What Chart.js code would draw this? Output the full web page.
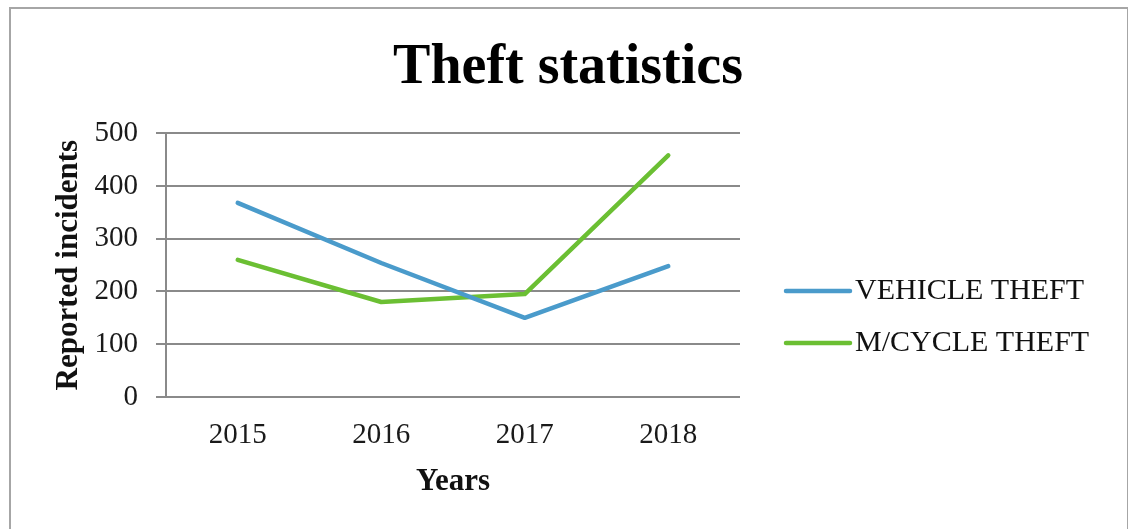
<!DOCTYPE html>
<html>
<head>
<meta charset="utf-8">
<title>Theft statistics</title>
<script src="https://cdn.jsdelivr.net/npm/chart.js@4.4.1/dist/chart.umd.min.js"></script>
<style>
    body { margin: 0; background: #fff; }
    #wrap { position: relative; width: 1128px; height: 529px; overflow: hidden; }
    #frame { position: absolute; left: 9px; top: 7px; width: 1116px; height: 600px;
             border: 2px solid #a6a6a6; border-bottom: none; }
    #chart { position: absolute; left: 0; top: 0; }
</style>
</head>
<body>
<div id="wrap">
    <div id="frame"></div>
    <canvas id="chart" width="1128" height="529"></canvas>
</div>
<script>
const years = ['2015', '2016', '2017', '2018'];
const vehicleTheft = [368, 254, 150, 248];
const mcycleTheft = [260, 180, 195, 458];
const seriesNames = ['VEHICLE THEFT', 'M/CYCLE THEFT'];

const serif = "'Liberation Serif', 'Times New Roman', serif";
const gridGray = '#8a8a8a';

// legend drawn by hand in the space to the right of the plot
const sideLegend = {
    id: 'sideLegend',
    afterDraw: function(chart) {
        const c = chart.ctx;
        const area = chart.chartArea;
        const x0 = area.right + 46;
        const mid = (area.top + area.bottom) / 2;
        c.save();
        chart.data.datasets.forEach(function(ds, i) {
            const y = mid + 26 + 52 * i;
            c.strokeStyle = ds.borderColor;
            c.lineWidth = ds.borderWidth;
            c.lineCap = 'round';
            c.beginPath();
            c.moveTo(x0, y);
            c.lineTo(x0 + 64, y);
            c.stroke();
            c.fillStyle = '#111';
            c.font = '30px ' + serif;
            c.textBaseline = 'middle';
            c.textAlign = 'left';
            c.fillText(ds.label, x0 + 69, y);
        });
        c.restore();
    }
};

document.addEventListener('DOMContentLoaded', function() {
    const ctx = document.getElementById('chart').getContext('2d');

    new Chart(ctx, {
        type: 'line',
        data: {
            labels: years,
            datasets: [{
                label: seriesNames[0],
                data: vehicleTheft,
                borderColor: '#4a9bcb',
                backgroundColor: '#4a9bcb',
                borderWidth: 4.5,
                borderCapStyle: 'round',
                borderJoinStyle: 'round',
                pointRadius: 0,
                tension: 0,
                yAxisID: 'y'
            }, {
                label: seriesNames[1],
                data: mcycleTheft,
                borderColor: '#6bbf33',
                backgroundColor: '#6bbf33',
                borderWidth: 4.5,
                borderCapStyle: 'round',
                borderJoinStyle: 'round',
                pointRadius: 0,
                tension: 0,
                yAxisID: 'y'
            }]
        },
        options: {
            responsive: false,
            animation: false,
            layout: {
                padding: { left: 50, top: 10, right: 42, bottom: 28 }
            },
            scales: {
                x: {
                    offset: true,
                    grid: { display: false, drawTicks: false },
                    border: { display: false },
                    ticks: {
                        padding: 21,
                        color: '#1a1a1a',
                        font: { family: serif, size: 29 }
                    },
                    title: {
                        display: true,
                        text: 'Years',
                        color: '#111',
                        padding: 0,
                        font: { family: serif, size: 31, weight: 'bold' }
                    },
                    afterFit: function(scale) { scale.height = 104; }
                },
                y: {
                    min: 0,
                    max: 500,
                    ticks: {
                        stepSize: 100,
                        padding: 18,
                        color: '#1a1a1a',
                        font: { family: serif, size: 29 }
                    },
                    grid: { color: gridGray, lineWidth: 2, tickLength: 10 },
                    border: { display: true, color: gridGray, width: 2 },
                    title: {
                        display: true,
                        text: 'Reported incidents',
                        color: '#111',
                        padding: 0,
                        font: { family: serif, size: 31, weight: 'bold' }
                    },
                    afterFit: function(scale) { scale.width = 116; }
                },
                y2: {
                    // empty box that reserves room for the legend
                    position: 'right',
                    grid: { display: false, drawTicks: false },
                    border: { display: false },
                    ticks: { display: false },
                    afterFit: function(scale) { scale.width = 346; }
                }
            },
            plugins: {
                title: {
                    display: true,
                    text: 'Theft statistics',
                    color: '#000',
                    padding: { top: 25, bottom: 31 },
                    font: { family: serif, size: 56, weight: 'bold' }
                },
                legend: { display: false },
                tooltip: { enabled: false }
            }
        },
        plugins: [sideLegend]
    });
});
</script>
</body>
</html>
